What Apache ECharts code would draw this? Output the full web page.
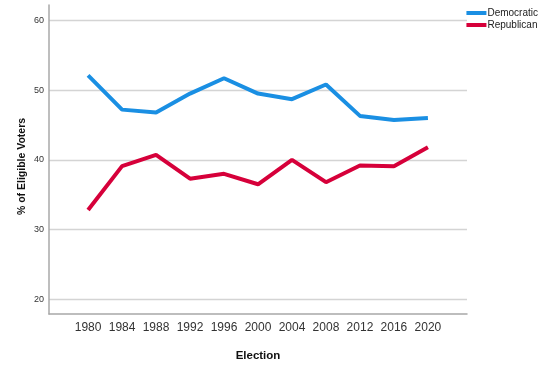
<!DOCTYPE html>
<html><head><meta charset="utf-8">
<script src="https://cdn.jsdelivr.net/npm/echarts@6/dist/echarts.min.js"></script>
<style>html,body{margin:0;padding:0;background:#fff}#c{width:556px;height:368px}</style>
</head><body><div id="c"></div>
<script>
const years = [1980,1984,1988,1992,1996,2000,2004,2008,2012,2016,2020];
const democratic = [52.1,47.2,46.8,49.5,51.7,49.5,48.7,50.8,46.3,45.7,46.0];
const republican = [32.8,39.1,40.7,37.3,38.0,36.5,40.0,36.8,39.2,39.1,41.8];
const yTicks = [20,30,40,50,60];

const chart = echarts.init(document.getElementById('c'));
const pair = arr => years.map((y,i)=>[y,arr[i]]);
chart.setOption({
  animation:false,
  grid:{left:49,right:89,top:5,bottom:54},
  legend:{
    right:13, top:2, orient:'vertical', itemWidth:20, itemHeight:4, itemGap:0,
    textStyle:{fontFamily:'Liberation Sans, Arial', fontSize:10, lineHeight:12, color:'#222', padding:[0,0,0,-4]},
    icon:'rect',
    data:['Democratic','Republican']
  },
  xAxis:{
    type:'value', min:1975.4, max:2024.6,
    name:'Election', nameLocation:'middle', nameGap:36,
    nameTextStyle:{fontFamily:'Liberation Sans, Arial', fontWeight:'bold', fontSize:11.5, color:'#111'},
    axisLine:{show:true, lineStyle:{color:'#a8a8a8', width:1.5}},
    axisTick:{show:false, customValues:years},
    axisLabel:{customValues:years, formatter:v=>String(v), fontFamily:'Liberation Sans, Arial', fontSize:12, color:'#333', margin:8},
    splitLine:{show:false}
  },
  yAxis:{
    type:'value', min:17.9, max:62.2,
    name:'% of Eligible Voters', nameLocation:'middle', nameGap:21, nameMoveOverlap:false,
    nameTextStyle:{fontFamily:'Liberation Sans, Arial', fontWeight:'bold', fontSize:10.5, color:'#111', padding:[0,14,0,0]},
    axisLine:{show:true, lineStyle:{color:'#a8a8a8', width:1.5}},
    axisTick:{show:false, customValues:yTicks},
    axisLabel:{customValues:yTicks, formatter:v=>String(v), fontFamily:'Liberation Sans, Arial', fontSize:9, color:'#333', margin:5},
    splitLine:{show:true, lineStyle:{color:'#d4d4d4', width:1.3}}
  },
  series:[
    {name:'Democratic', type:'line', data:pair(democratic), symbol:'none',
     lineStyle:{color:'#1a8fe3', width:4}, itemStyle:{color:'#1a8fe3'}},
    {name:'Republican', type:'line', data:pair(republican), symbol:'none',
     lineStyle:{color:'#d6003a', width:4}, itemStyle:{color:'#d6003a'}}
  ]
});
</script></body></html>
